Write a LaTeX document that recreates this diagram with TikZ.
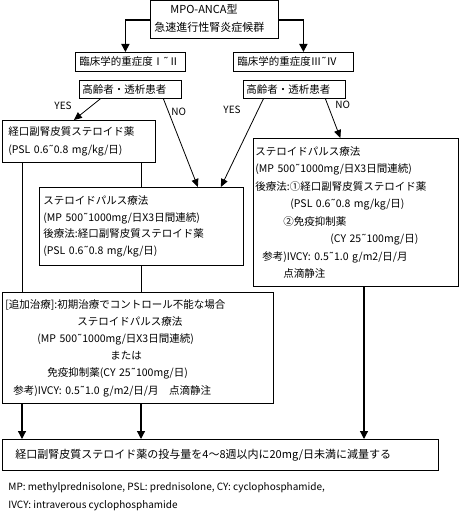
\documentclass[tikz,border=0pt]{standalone}
\usepackage{fontspec}
\setmainfont{Noto Sans CJK JP}
\newfontfamily\symfont{DejaVu Sans}
\newcommand{\wave}{{\symfont ˜}}
\usetikzlibrary{arrows.meta, positioning}
\tikzset{
  every picture/.style={line width=0.8pt},
  box/.style={draw, anchor=north west, align=left, inner ysep=0pt},
  arrow/.style={-{Triangle[length=8pt, width=8pt]}, line width=1.6pt},
  slant/.style={-{Triangle[length=8pt, width=7pt]}, line width=0.8pt},
  lab/.style={font=\fontsize{10}{11}\selectfont, inner sep=0pt},
  note/.style={font=\fontsize{10}{11}\selectfont, anchor=west, inner sep=0pt},
}

\begin{document}
\begin{tikzpicture}[x=1pt, y=-1pt]
  \useasboundingbox (0,0) rectangle (460,516);
  \fill[white] (0,0) rectangle (460,516);
  % boxes
  \node[box, minimum width=128pt, minimum height=38pt] (top) at (150,0.5) {};
  \node[anchor=west, inner sep=0pt, font=\fontsize{11}{12}\selectfont] (topA) at (170,9.5) {MPO-ANCA型};
  \node[anchor=west, inner sep=0pt, font=\fontsize{11}{12}\selectfont] (topB) at (154,27) {急速進行性腎炎症候群};
  \node[box, inner xsep=4pt, text width=102pt, minimum height=19pt, font=\fontsize{10.5}{12}\selectfont] (gradeL) at (75,52) {臨床学的重症度Ⅰ\wave Ⅱ};
  \node[box, inner xsep=4pt, text width=112pt, minimum height=19pt, font=\fontsize{10.5}{12}\selectfont] (gradeR) at (233,52) {臨床学的重症度Ⅲ\wave Ⅳ};
  \node[box, inner xsep=3pt, text width=96pt, minimum height=18pt, font=\fontsize{10.5}{12}\selectfont] (ageL) at (79,80) {高齢者・透析患者};
  \node[box, inner xsep=3pt, text width=96pt, minimum height=18pt, font=\fontsize{10.5}{12}\selectfont] (ageR) at (243,80) {高齢者・透析患者};
  \node[box, inner xsep=6pt, text width=141pt, minimum height=42pt, font=\fontsize{10.5}{18}\selectfont] (oral) at (2,120)
    {経口副腎皮質ステロイド薬\\(PSL 0.6\wave 0.8 mg/kg/日)};
  \node[box, inner xsep=4pt, text width=196pt, minimum height=78pt, font=\fontsize{10.5}{16.7}\selectfont] (pulse) at (39,187)
    {ステロイドパルス療法\\(MP 500\wave 1000mg/日X3日間連続)\\後療法:経口副腎皮質ステロイド薬\\(PSL 0.6\wave 0.8 mg/kg/日)};
  \node[box, inner xsep=2pt, text width=201pt, minimum height=148pt, font=\fontsize{10.5}{17.5}\selectfont] (pulseR) at (253,138)
    {ステロイドパルス療法\\(MP 500\wave 1000mg/日X3日間連続)\\後療法:①経口副腎皮質ステロイド薬\\
     \hspace*{35pt}(PSL 0.6\wave 0.8 mg/kg/日)\\\hspace*{28pt}②免疫抑制薬\\\hspace*{75pt}(CY 25\wave 100mg/日)\\
     \hspace*{7pt}参考)IVCY: 0.5\wave 1.0 g/m2/日/月\\\hspace*{28pt}点滴静注};
  \node[box, inner xsep=3pt, text width=265pt, minimum height=111pt, font=\fontsize{10.5}{17.2}\selectfont] (extra) at (2,292)
    {[追加治療]:初期治療でコントロール不能な場合\\\hspace*{72pt}ステロイドパルス療法\\
     \hspace*{32pt}(MP 500\wave 1000mg/日X3日間連続)\\\hspace*{105pt}または\\
     \hspace*{42pt}免疫抑制薬(CY 25\wave 100mg/日)\\\hspace*{8pt}参考)IVCY: 0.5\wave 1.0 g/m2/日/月　点滴静注};
  \node[box, inner xsep=13pt, text width=410pt, minimum height=31pt, font=\fontsize{11}{12}\selectfont] (taper) at (2,439)
    {経口副腎皮質ステロイド薬の投与量を4～8週以内に20mg/日未満に減量する};
  \node[note] (abbr1) at (8,488) {MP: methylprednisolone, PSL: prednisolone, CY: cyclophosphamide,};
  \node[note] (abbr2) at (8,506) {IVCY: intraverous cyclophosphamide};
  % columns for the vertical lines
  \coordinate (colA) at (22,0);
  \coordinate (colB) at (141,0);
  \coordinate (colC) at (364,0);
  % connectors
  \draw[arrow] (top.west) -| ([xshift=-5pt]gradeL.north);
  \draw[arrow] (top.east) -| ([xshift=10pt]gradeR.north);
  \draw[slant] ([xshift=-30pt]ageL.south) -- ([xshift=-5pt]oral.north);
  \draw[slant] ([xshift=33pt]ageL.south) -- ([xshift=56.5pt]pulse.north);
  \draw[slant] ([xshift=-31pt]ageR.south) -- ([xshift=79.5pt]pulse.north);
  \draw[slant] ([xshift=31pt]ageR.south) -- ([xshift=-15.5pt]pulseR.north);
  \node[lab, below left=3pt and 7pt of ageL.south west] (yesL) {YES};
  \node[lab, below=9pt of ageL.south east, xshift=-3pt] (noL) {NO};
  \node[lab, below left=7pt and 2pt of ageR.south west] (yesR) {YES};
  \node[lab, below=2pt of ageR.south east, xshift=-3pt] (noR) {NO};
  \draw (oral.south -| colA) -- (extra.north -| colA);
  \draw (oral.south -| colB) -- (pulse.north -| colB);
  \draw (pulse.south -| colB) -- (extra.north -| colB);
  \draw[arrow, line width=1.2pt] (extra.south -| colA) -- (taper.north -| colA);
  \draw[arrow, line width=1.2pt] (extra.south -| colB) -- (taper.north -| colB);
  \draw[arrow, line width=1.2pt] (pulseR.south -| colC) -- (taper.north -| colC);
\end{tikzpicture}
\end{document}
